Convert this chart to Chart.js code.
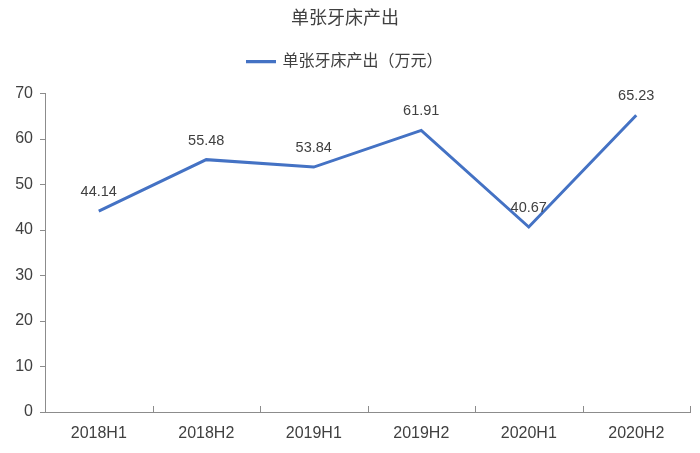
<!DOCTYPE html>
<html>
<head>
<meta charset="utf-8">
<script src="https://cdn.jsdelivr.net/npm/chart.js@4/dist/chart.umd.min.js"></script>
<style>
  html, body { margin: 0; padding: 0; background: #fff; }
  #wrap { width: 700px; height: 453px; }
</style>
</head>
<body>
<div id="wrap"><canvas id="chart-area"></canvas></div>
<script>
var categorias = ['2018H1', '2018H2', '2019H1', '2019H2', '2020H1', '2020H2'];
var valores = [44.14, 55.48, 53.84, 61.91, 40.67, 65.23];
var titulo = '单张牙床产出';
var serieNome = '单张牙床产出（万元）';

var FONTE = "Arial, 'Liberation Sans', 'Noto Sans CJK SC', sans-serif";
var AZUL = '#4472C4';
var EIXO = '#8c8c8c';

// rotulos de valor acima de cada ponto
var rotulos = {
    id: 'rotulos',
    afterDatasetsDraw: function(chart) {
        var ctx = chart.ctx;
        var meta = chart.getDatasetMeta(0);
        ctx.save();
        ctx.font = '14.5px ' + FONTE;
        ctx.fillStyle = '#404040';
        ctx.textAlign = 'center';
        ctx.textBaseline = 'middle';
        meta.data.forEach(function(p, i) {
            ctx.fillText(valores[i].toFixed(2), p.x, p.y - 19);
        });
        ctx.restore();
    }
};

// espaco extra abaixo da legenda
var margemLegenda = {
    id: 'margemLegenda',
    beforeInit: function(chart) {
        var fitOrig = chart.legend.fit;
        chart.legend.fit = function() {
            fitOrig.bind(chart.legend)();
            this.height += 14;
        };
    }
};

// tracinhos do eixo x apontando para cima, nas divisas das categorias
var marcasX = {
    id: 'marcasX',
    afterDraw: function(chart) {
        var ctx = chart.ctx;
        var sx = chart.scales.x;
        var base = chart.chartArea.bottom;
        ctx.save();
        ctx.strokeStyle = EIXO;
        ctx.lineWidth = 1;
        for (var i = 0; i <= categorias.length; i++) {
            var x = Math.round(sx.getPixelForValue(i - 0.5)) + 0.5;
            ctx.beginPath();
            ctx.moveTo(x, base);
            ctx.lineTo(x, base - 6);
            ctx.stroke();
        }
        ctx.restore();
    }
};

var ctx = document.getElementById('chart-area').getContext('2d');
var config = {
    type: 'line',
    data: {
        labels: categorias,
        datasets: [{
            label: serieNome,
            data: valores,
            borderColor: AZUL,
            backgroundColor: AZUL,
            borderWidth: 3,
            pointRadius: 0,
            pointHoverRadius: 0,
            tension: 0
        }]
    },
    options: {
        responsive: true,
        maintainAspectRatio: false,
        animation: false,
        layout: { padding: { top: 6, right: 10, left: 0, bottom: 0 } },
        plugins: {
            title: {
                display: true,
                text: titulo,
                color: '#404040',
                font: { family: FONTE, size: 18, weight: 'normal' },
                padding: { top: 2, bottom: 14 }
            },
            legend: {
                display: true,
                labels: {
                    color: '#404040',
                    font: { family: FONTE, size: 16 },
                    boxWidth: 27,
                    boxHeight: 0.1,
                    padding: 10
                }
            },
            tooltip: { enabled: false }
        },
        scales: {
            x: {
                offset: true,
                grid: { display: false, drawTicks: false },
                border: { display: true, color: EIXO, width: 1 },
                ticks: { color: '#404040', font: { family: FONTE, size: 16 }, padding: 12 },
                afterFit: function(s) { s.height = 41; }
            },
            y: {
                min: 0,
                max: 70,
                ticks: { stepSize: 10, color: '#404040', font: { family: FONTE, size: 16 }, padding: 7 },
                grid: { drawOnChartArea: false, drawTicks: true, tickLength: 5, color: EIXO },
                border: { display: true, color: EIXO, width: 1 },
                afterFit: function(s) { s.width = 45; }
            }
        }
    },
    plugins: [margemLegenda, rotulos, marcasX]
};

window.myLine = new Chart(ctx, config);
</script>
</body>
</html>
